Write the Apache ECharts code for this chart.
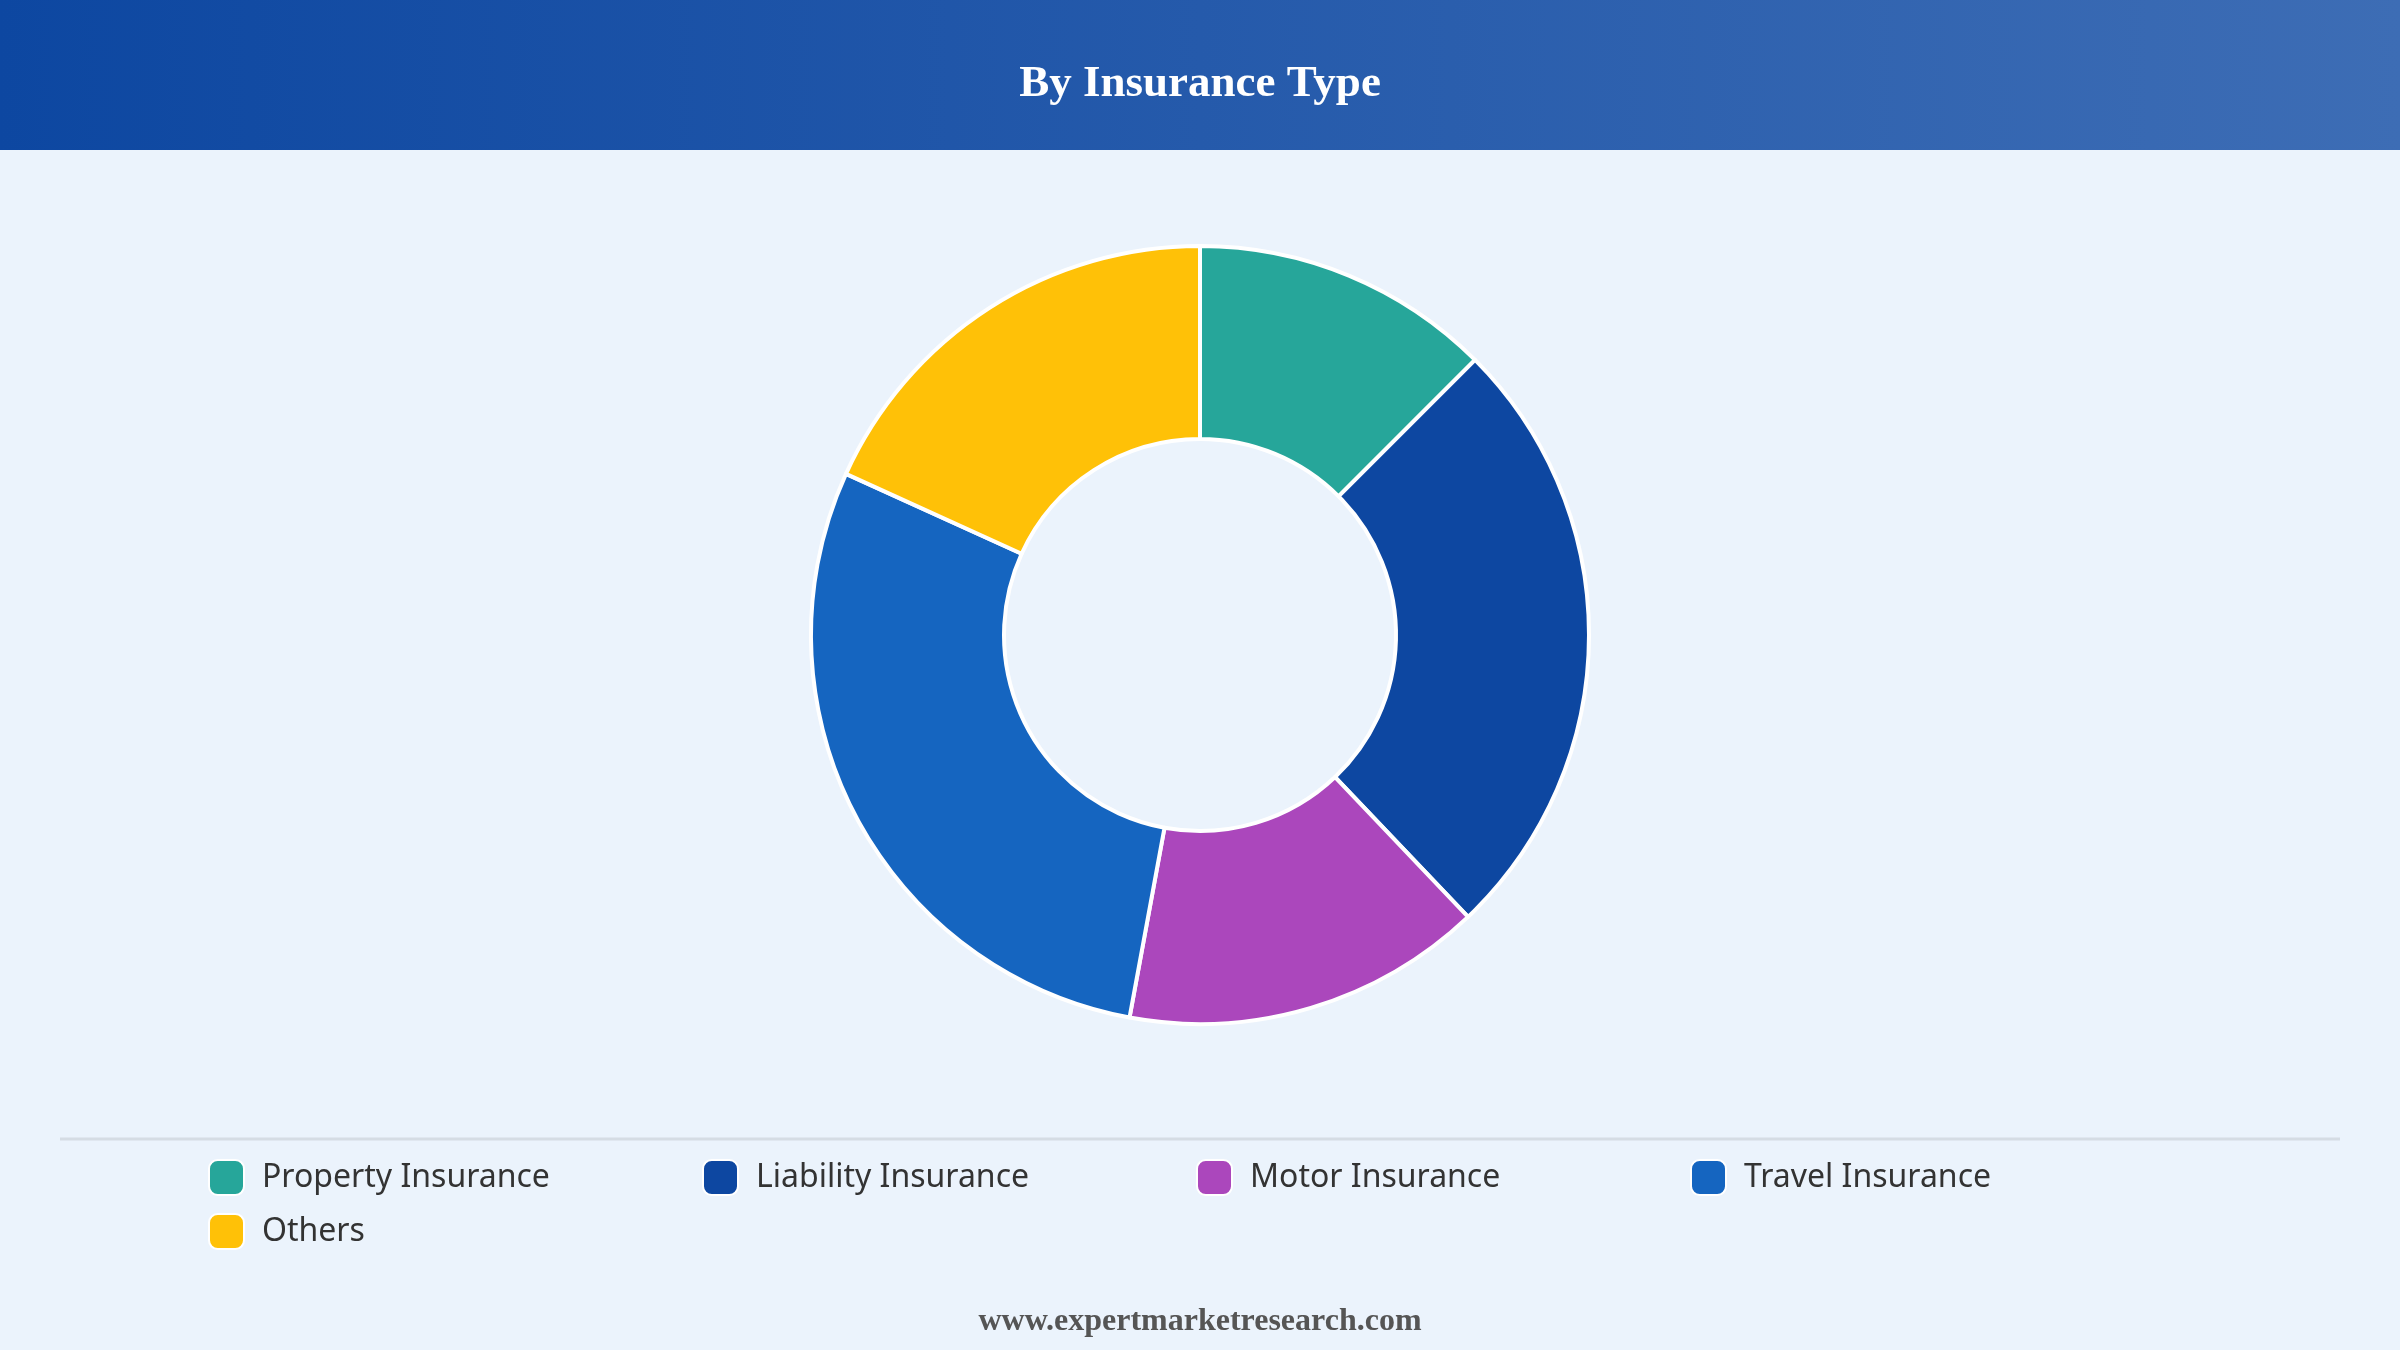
<!DOCTYPE html>
<html><head><meta charset="utf-8">
<script src="https://cdn.jsdelivr.net/npm/echarts@6/dist/echarts.min.js"></script>
<style>html,body{margin:0;padding:0;background:#EBF3FC}#c{width:2400px;height:1350px}</style>
</head><body><div id="c"></div>
<script>
const categories = ['Property Insurance','Liability Insurance','Motor Insurance','Travel Insurance','Others'];
const values = [12.5, 25.4, 15.0, 28.9, 18.2];
const colors = ['#26A69A','#0D47A1','#AB47BC','#1565C0','#FFC107'];
const chart = echarts.init(document.getElementById('c'));
const legendPos = [[203,1154],[697,1154],[1191,1154],[1685,1154],[203,1208]];
chart.setOption({
  backgroundColor:'#EBF3FC',
  title:{text:'By Insurance Type',left:'center',top:57,textStyle:{color:'#fff',fontSize:45,fontWeight:'bold',fontFamily:'Liberation Serif'}},
  graphic:[
    {type:'rect',z:-1,shape:{x:0,y:0,width:2400,height:150},style:{fill:new echarts.graphic.LinearGradient(0,0,1,0,[{offset:0,color:'#0D47A1'},{offset:1,color:'#3D6DB5'}])}},
    {type:'line',shape:{x1:60,y1:1139,x2:2340,y2:1139},style:{stroke:'#D5DCE4',lineWidth:3}},
    {type:'text',left:'center',top:1306,style:{text:'www.expertmarketresearch.com',fill:'#555',font:'bold 32px "Liberation Serif"'}}
  ],
  legend:categories.map((n,i)=>({left:legendPos[i][0],top:legendPos[i][1],itemWidth:35,itemHeight:35,icon:'roundRect',
    textStyle:{fontSize:32,color:'#333',fontFamily:'Noto Sans',padding:[0,0,0,13]},data:[n]})),
  series:[{type:'pie',center:[1200,635],radius:[196,389],startAngle:90,clockwise:true,label:{show:false},
    itemStyle:{borderColor:'#fff',borderWidth:4},
    data:categories.map((n,i)=>({name:n,value:values[i],itemStyle:{color:colors[i]}}))}]
});
</script></body></html>
